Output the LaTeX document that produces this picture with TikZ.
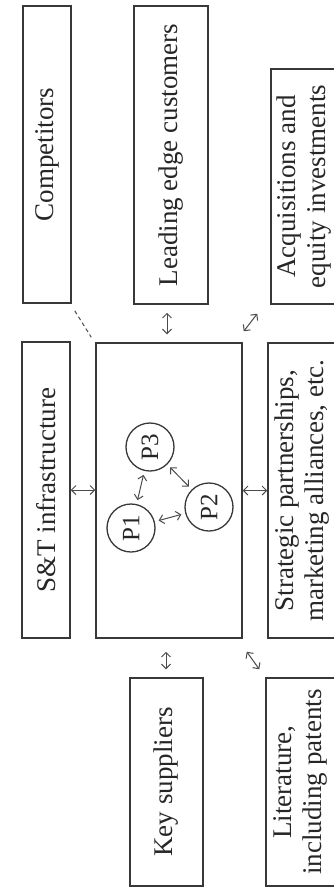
\documentclass[tikz,border=0pt]{standalone}
\usepackage{fontspec}
\setmainfont{Liberation Serif}
\usetikzlibrary{arrows.meta,calc}
\definecolor{boxcol}{HTML}{383838}
\definecolor{arrcol}{HTML}{4A4A4A}
\definecolor{txtcol}{HTML}{262626}
\begin{document}
\begin{tikzpicture}[x=1pt,y=-1pt,
  box/.style={draw=boxcol, line width=1.5pt, inner sep=0pt, text=txtcol,
    font=\fontsize{27}{30}\selectfont},
  circ/.style={circle, draw=boxcol, line width=1.3pt, minimum size=48pt,
    inner sep=0pt, text=txtcol, font=\fontsize{25}{28}\selectfont},
  dbl/.style={draw=arrcol, line width=1pt,
    {Straight Barb[length=4.5pt,width=9pt]}-{Straight Barb[length=4.5pt,width=9pt]}},
  dsh/.style={draw=arrcol, line width=1pt, dash pattern=on 4pt off 3pt}
  ]
\useasboundingbox (0,0) rectangle (333,889);
% top row
\node[box, minimum width=48pt, minimum height=297pt] (comp) at (47,154.5)
  {\rotatebox{90}{Competitors}};
\node[box, minimum width=74pt, minimum height=298pt] (lead) at (171,155)
  {\rotatebox{90}{Leading edge customers}};
\node[box, minimum width=67pt, minimum height=235pt] (acq) at (304.5,186.5)
  {\rotatebox{90}{\begin{tabular}{@{}c@{}}Acquisitions and\\equity investments\end{tabular}}};
% middle row
\node[box, minimum width=48pt, minimum height=296pt] (st) at (46,490)
  {\rotatebox{90}{S\&T infrastructure}};
\node[box, minimum width=146pt, minimum height=295pt] (central) at (169,490.5) {};
\node[box, minimum width=68pt, minimum height=295pt] (strat) at (302,490.5)
  {\rotatebox{90}{\begin{tabular}{@{}c@{}}Strategic partnerships,\\marketing alliances, etc.\end{tabular}}};
% bottom row
\node[box, minimum width=73pt, minimum height=208pt] (ks) at (166.5,782)
  {\rotatebox{90}{Key suppliers}};
\node[box, minimum width=69pt, minimum height=208pt] (lit) at (300.5,782)
  {\rotatebox{90}{\begin{tabular}{@{}c@{}}Literature,\\including patents\end{tabular}}};
% projects
\node[circ] (p1) at (131,528) {\rotatebox{90}{P1}};
\node[circ] (p2) at (209,507) {\rotatebox{90}{P2}};
\node[circ] (p3) at (150,447) {\rotatebox{90}{P3}};
% connectors
\coordinate (xa) at (167,0);
\coordinate (xb) at (166,0);
\draw[dbl, shorten <=8pt, shorten >=8pt] (lead.south -| xa) -- (central.north -| xa);
\draw[dbl, shorten <=13pt, shorten >=8pt] (central.south -| xb) -- (ks.north -| xb);
\draw[dbl] (st.east) -- (st.east -| central.west);
\draw[dbl] (central.east) -- (central.east -| strat.west);
\draw[dbl] ($(acq.south west)+(-13,9)$) -- ($(central.north east)+(1,-11)$);
\draw[dbl] ($(central.south east)+(4,13)$) -- ($(lit.north west)+(-6,-8)$);
\draw[dsh] ($(comp.south east)+(3,7)$) -- ($(central.north west)+(-4,-5)$);
\draw[dbl, shorten <=4pt, shorten >=4pt] (p1) -- (p3);
\draw[dbl, shorten <=4pt, shorten >=4pt] (p3) -- (p2);
\draw[dbl, shorten <=4pt, shorten >=4pt] (p1) -- (p2);
\end{tikzpicture}
\end{document}
